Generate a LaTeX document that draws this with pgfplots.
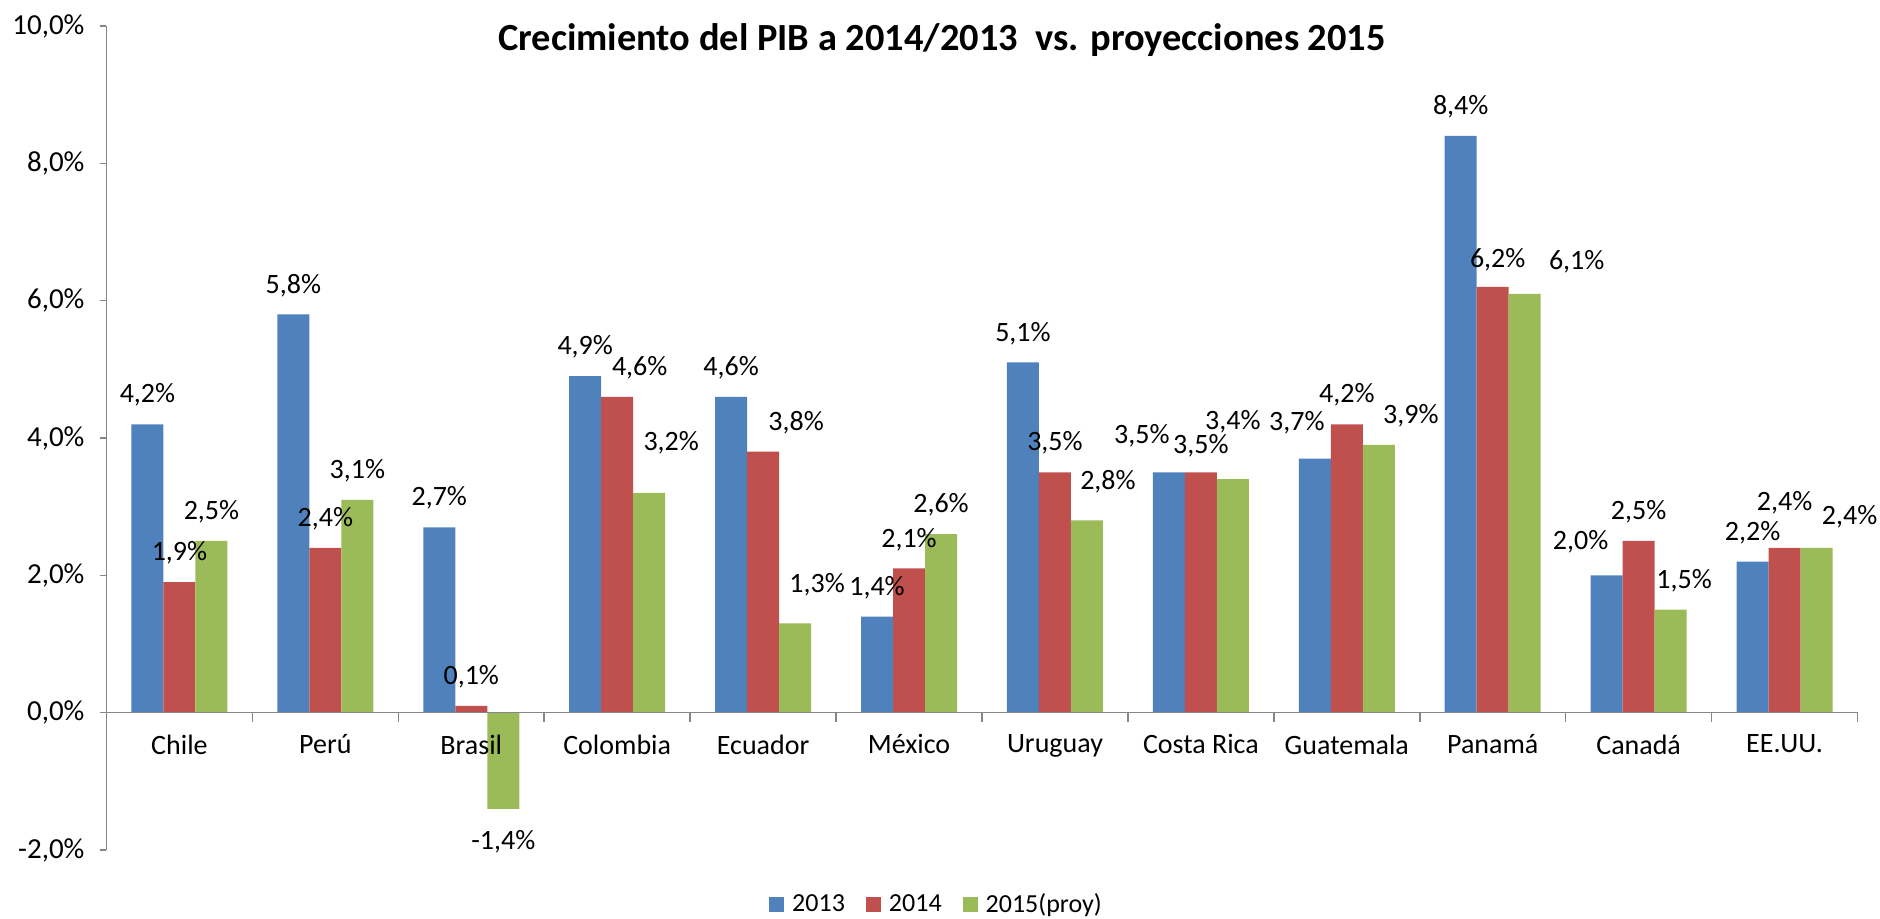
\documentclass[border=0pt]{standalone}
\usepackage{fontspec}
\setmainfont{Carlito}
\usepackage{pgfplots}
\usepackage{pgfplotstable}
\pgfplotsset{compat=1.18}
\definecolor{b13}{HTML}{4F81BD}
\definecolor{r14}{HTML}{C0504D}
\definecolor{g15}{HTML}{9BBB59}
\definecolor{axgray}{HTML}{868686}

% values and label offsets (pt) for each series
\pgfplotstableread{
x y13 y14 y15 dxa dya dxb dyb dxc dyc
0 4.2 1.9 2.5 0 0 0 0 0 0
1 5.8 2.4 3.1 0 0 0 0 0 0
2 2.7 0.1 -1.4 0 0 0 0 0 -1.8
3 4.9 4.6 3.2 0 0 11.25 0 11 10.75
4 4.6 3.8 1.3 0 0 16.5 0 11 5
5 1.4 2.1 2.6 0 0 0 0 0 0
6 5.1 3.5 2.8 0 0 0 0 10.5 5
7 3.5 3.5 3.4 -13.5 3.75 0 -1.25 0 14.35
8 3.7 4.2 3.9 -9 3.25 0 0 16 0
9 8.4 6.2 6.1 0 0 2.5 -1.2 26 1.4
10 2.0 2.5 1.5 -13 2 0 0 6.75 0
11 2.2 2.4 2.4 0 0 0 8 16.5 0.8
}\data

\begin{document}
\begin{tikzpicture}
\useasboundingbox (0,0) rectangle (940pt,459.5pt);
\begin{axis}[
  at={(53.25pt,34.5pt)}, anchor=south west,
  scale only axis, width=875.5pt, height=412pt,
  xmin=-0.5, xmax=11.5, ymin=-2, ymax=10,
  ybar=0pt, bar width=16pt,
  axis on top,
  axis x line=middle, axis y line=left,
  axis line style={axgray, thick, -},
  hide obscured x ticks=false, hide obscured y ticks=false,
  tick align=outside,
  major tick length=3.5pt, minor tick length=4.5pt,
  tick style={axgray, thick},
  xtick={0,...,11},
  xticklabels={Chile,Perú,Brasil,Colombia,Ecuador,México,Uruguay,Costa Rica,Guatemala,Panamá,Canadá,EE.UU.},
  major x tick style={draw=none},
  minor xtick={0.5,1.5,...,11.5},
  xticklabel style={font=\fontsize{14}{17}\selectfont, yshift=-4pt},
  ytick={-2,0,...,10},
  yticklabel={\pgfmathprintnumber[fixed,fixed zerofill,precision=1,use comma,assume math mode=true]{\tick}\%},
  yticklabel style={font=\fontsize{14.5}{17}\selectfont, xshift=-4pt},
  nodes near coords={\pgfmathprintnumber[fixed,fixed zerofill,precision=1,use comma,assume math mode=true]{\pgfplotspointmeta}\%},
  every node near coord/.append style={font=\fontsize{14}{17}\selectfont, text=black, inner ysep=8.7pt, xshift=\mydx pt, yshift=\mydy pt},
  clip=false,
  legend columns=3,
  legend style={draw=none, fill=none, at={(0.4746,-0.0667)}, anchor=center,
    font=\fontsize{13}{16}\selectfont,
    /tikz/every odd column/.append style={column sep=2pt},
    /tikz/every even column/.append style={column sep=8.5pt}},
  legend image code/.code={\fill[#1] (0pt,-3.75pt) rectangle (7.5pt,3.75pt);},
]
\addplot[fill=b13, draw=none, visualization depends on={\thisrow{dxa} \as \mydx}, visualization depends on={\thisrow{dya} \as \mydy}] table[x=x,y=y13] {\data};
\addplot[fill=r14, draw=none, visualization depends on={\thisrow{dxb} \as \mydx}, visualization depends on={\thisrow{dyb} \as \mydy}] table[x=x,y=y14] {\data};
\addplot[fill=g15, draw=none, visualization depends on={\thisrow{dxc} \as \mydx}, visualization depends on={\thisrow{dyc} \as \mydy}] table[x=x,y=y15] {\data};
\legend{2013,2014,2015(proy)}
\end{axis}
\node[font=\bfseries\fontsize{19.2}{23}\selectfont] at (471pt,439.5pt) {Crecimiento del PIB a 2014/2013\ \ vs. proyecciones 2015};
\end{tikzpicture}
\end{document}
